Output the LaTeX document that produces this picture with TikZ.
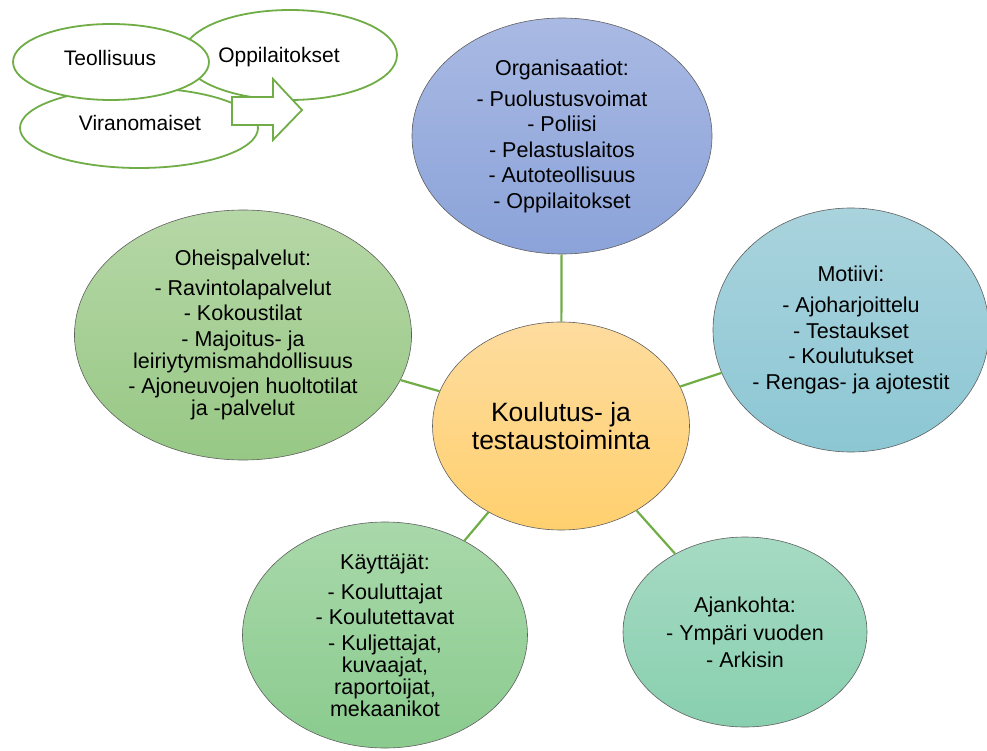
\documentclass[tikz,border=0pt]{standalone}
\usepackage{fontspec}
\setmainfont{Liberation Sans}
\usepackage{tikz}
\usetikzlibrary{shapes.geometric}

\definecolor{linegreen}{HTML}{70AD47}
\definecolor{edgegray}{HTML}{5F5F5F}

\begin{document}
\begin{tikzpicture}[x=1pt, y=-1pt,
    bubble/.style={ellipse, draw=edgegray, line width=0.6pt, inner sep=0pt},
    tagring/.style={ellipse, draw=linegreen, line width=1.8pt, fill=white, inner sep=0pt},
    bubtext/.style={align=center, font=\fontsize{21.5}{22}\selectfont},
    link/.style={draw=linegreen, line width=2.2pt}]
    \useasboundingbox (0,0) rectangle (987,751);

    % Top-left ellipses
    \node[tagring, minimum width=238pt, minimum height=80pt] (viran) at (139,128) {};
    \node[tagring, minimum width=214pt, minimum height=90pt] (oppi) at (290,55) {};
    \node[tagring, minimum width=196pt, minimum height=76pt] (teol) at (111,62) {};
    \node[bubtext, font=\fontsize{21}{22}\selectfont] (virantext) at (140,123) {Viranomaiset};
    \node[bubtext, font=\fontsize{21}{22}\selectfont] (oppitext) at (279,57) {Oppilaitokset};
    \node[bubtext, font=\fontsize{21}{22}\selectfont] (teoltext) at (110,58) {Teollisuus};
    \draw[linegreen, line width=1.8pt, fill=white, line join=miter]
        (232,97) -- (273,97) -- (273,79) -- (302,110) -- (273,140) -- (273,125) -- (232,125) -- cycle;

    % Main bubbles
    \node[bubble, top color={rgb,255:red,169;green,185;blue,227}, bottom color={rgb,255:red,139;green,163;blue,217},
        minimum width=300pt, minimum height=236pt] (org) at (562,136) {};
    \node[bubble, top color={rgb,255:red,182;green,215;blue,166}, bottom color={rgb,255:red,151;green,200;blue,133},
        minimum width=337pt, minimum height=250pt] (ohei) at (243,335) {};
    \node[bubble, top color={rgb,255:red,169;green,211;blue,221}, bottom color={rgb,255:red,140;green,199;blue,212},
        minimum width=276pt, minimum height=244pt] (moti) at (851,330) {};
    \node[bubble, top color={rgb,255:red,169;green,216;blue,170}, bottom color={rgb,255:red,138;green,203;blue,142},
        minimum width=285pt, minimum height=226pt] (kayt) at (385,635) {};
    \node[bubble, top color={rgb,255:red,166;green,218;blue,195}, bottom color={rgb,255:red,136;green,207;blue,175},
        minimum width=244pt, minimum height=190pt] (ajan) at (745,632) {};
    \node[bubble, top color={rgb,255:red,254;green,220;blue,159}, bottom color={rgb,255:red,255;green,208;blue,110},
        minimum width=257pt, minimum height=208pt] (core) at (561,426) {};

    % Connectors
    \draw[link] (core) -- (org);
    \draw[link] (core) -- (ohei);
    \draw[link] (core) -- (moti);
    \draw[link] (core) -- (kayt);
    \draw[link] (core) -- (ajan);

    % Texts
    \node[bubtext] (orgtext) at (org) {Organisaatiot:\\[9pt]- Puolustusvoimat\\[3.5pt]- Poliisi\\[3.5pt]- Pelastuslaitos\\[3.5pt]- Autoteollisuus\\[3.5pt]- Oppilaitokset};
    \node[bubtext] (oheitext) at (ohei) {Oheispalvelut:\\[8pt]- Ravintolapalvelut\\[3.5pt]- Kokoustilat\\[3.5pt]- Majoitus- ja\\leiriytymismahdollisuus\\[3.5pt]- Ajoneuvojen huoltotilat\\ja -palvelut};
    \node[bubtext] (motitext) at (moti) {Motiivi:\\[9pt]- Ajoharjoittelu\\[3.5pt]- Testaukset\\[3.5pt]- Koulutukset\\[3.5pt]- Rengas- ja ajotestit};
    \node[bubtext] (kayttext) at (kayt) {Käyttäjät:\\[8pt]- Kouluttajat\\[3.5pt]- Koulutettavat\\[3.5pt]- Kuljettajat,\\kuvaajat,\\raportoijat,\\mekaanikot};
    \node[bubtext] (ajantext) at (ajan) {Ajankohta:\\[6pt]- Ympäri vuoden\\[5pt]- Arkisin};
    \node[bubtext, font=\fontsize{26.5}{28}\selectfont] (coretext) at (core) {Koulutus- ja\\testaustoiminta};
\end{tikzpicture}
\end{document}
